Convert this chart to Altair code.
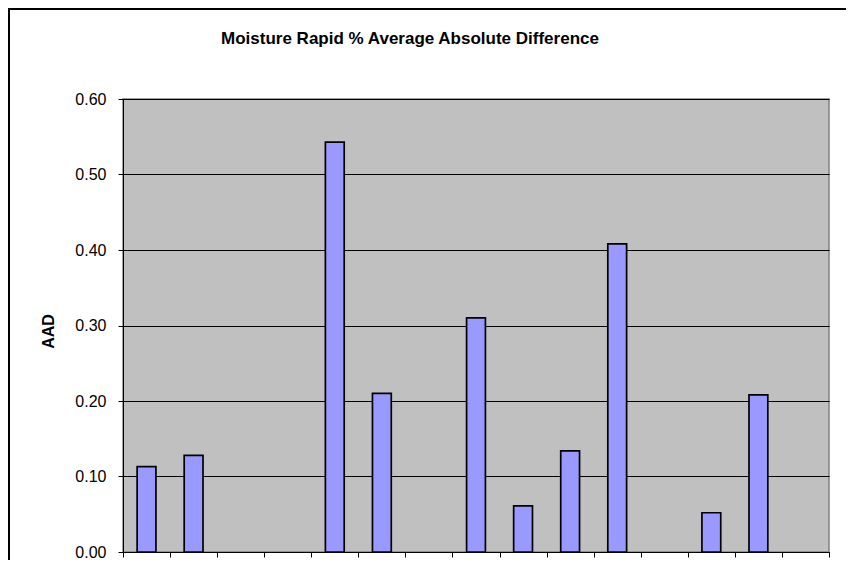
import altair as alt
import pandas as pd

# category slots (labels are cut off in the reference), and AAD values (None = no bar)
slots = list(range(15))
aad = [0.113, 0.128, None, None, 0.543, 0.210, None, 0.310, 0.061, 0.134, 0.408, None, 0.052, 0.208, None]
y_ticks = [0.0, 0.1, 0.2, 0.3, 0.4, 0.5, 0.6]

df = pd.DataFrame({"slot": slots, "AAD": aad}).dropna()

W, H = 706, 453

bars = alt.Chart(df).transform_calculate(
    x0="datum.slot + 0.3", x1="datum.slot + 0.7"
).mark_bar(color="#9999FF", stroke="black", strokeWidth=1.7).encode(
    x=alt.X("x0:Q", scale=alt.Scale(domain=[0, 15], nice=False, zero=False),
            axis=alt.Axis(values=list(range(16)), labels=False, grid=False, title=None,
                          domainColor="black", tickColor="black", tickSize=5, domainWidth=1)),
    x2="x1:Q",
    y=alt.Y("AAD:Q", scale=alt.Scale(domain=[0, 0.6], nice=False),
            axis=alt.Axis(values=y_ticks, format=".2f", title="AAD",
                          grid=True, gridColor="black", gridWidth=1,
                          domainColor="black", tickColor="black", tickSize=5,
                          labelFont="Liberation Sans", labelFontSize=16, labelColor="black",
                          labelPadding=12,
                          titleFont="Liberation Sans", titleFontSize=16, titleFontWeight="bold",
                          titleColor="black", titleX=-75, titleY=232, titleBaseline="middle",
                          titleAngle=-90)),
    y2=alt.datum(0),
)

frame = alt.Chart(alt.Data(values=[{}])).mark_rect(
    fill=None, stroke="black", strokeWidth=2
).encode(
    x=alt.value(-114), x2=alt.value(W + 22), y=alt.value(-90), y2=alt.value(H + 60)
)

chart = alt.layer(bars, frame).properties(
    width=W, height=H,
    autosize=alt.AutoSizeParams(type="none"),
    padding={"left": 115, "top": 91, "right": 17, "bottom": 8},
    title=alt.TitleParams("Moisture Rapid % Average Absolute Difference",
                          font="Liberation Sans", fontSize=17, fontWeight="bold",
                          color="black", anchor="middle", frame="group", dx=-66,
                          offset=0, dy=40),
).configure(background="white").configure_view(
    fill="#C0C0C0", stroke="#808080", strokeWidth=1.5
)

chart.save("out.html", embed_options={"renderer": "svg", "actions": False})
